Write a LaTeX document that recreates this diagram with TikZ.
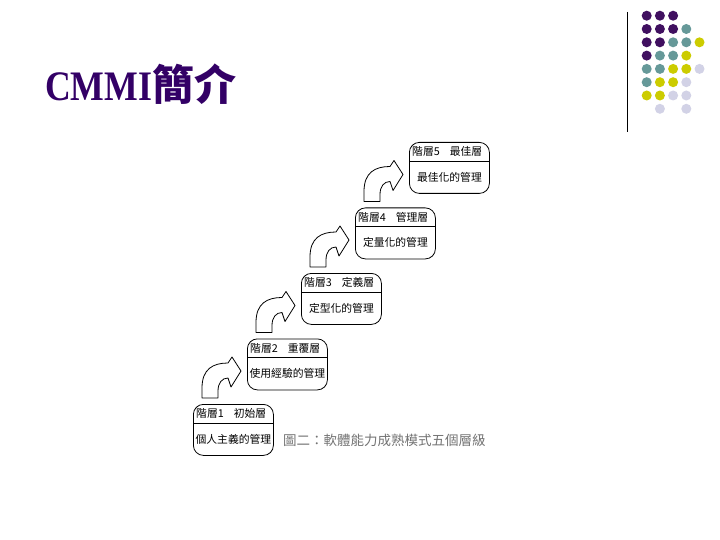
\documentclass[tikz,border=0pt]{standalone}
\usepackage{fontspec}
\setmainfont{Liberation Serif}
\newfontfamily\cjk{Noto Sans CJK TC}
\usetikzlibrary{positioning}

\definecolor{titlepurple}{RGB}{51,0,102}
\definecolor{dotP}{RGB}{64,16,96}
\definecolor{dotT}{RGB}{102,153,153}
\definecolor{dotY}{RGB}{204,204,0}
\definecolor{dotL}{RGB}{210,210,230}

\tikzset{
  stagebox/.style={draw, rounded corners=10pt, minimum width=80pt, minimum height=51pt, inner sep=0pt, line width=0.8pt},
  stagetitle/.style={font=\cjk\fontsize{10.8}{12}\selectfont, inner sep=0pt, anchor=west},
  stagebody/.style={font=\cjk\fontsize{10.8}{12}\selectfont, inner sep=0pt},
  blockarrow/.style={draw, line width=0.8pt, fill=white, line join=round},
  griddot/.style={circle, inner sep=0pt, minimum size=10pt},
}

\begin{document}
\begin{tikzpicture}[x=1pt, y=-1pt]

\fill[white] (0,0) rectangle (720,540);
\useasboundingbox (0,0) rectangle (720,540);

% Slide title
\node[anchor=base west, text=titlepurple, inner sep=0pt] (title) at (45,101)
  {\fontsize{42}{42}\selectfont\bfseries\scalebox{0.85}[1]{CMMI}{\cjk\bfseries 簡介}};

% Corner decoration: rule and dot grid
\draw[line width=0.8pt] (627.3,12) -- (627.3,132);
\foreach \r/\list in {0/{P,P,P},1/{P,P,P,T},2/{P,P,T,T,Y},3/{P,T,T,Y},4/{T,T,Y,Y,L},5/{T,Y,Y,L},6/{Y,Y,L,L}}{
  \foreach \col [count=\c from 0] in \list
    \node[griddot, fill=dot\col] (d\r-\c) at ({646.7+13.2*\c},{15.7+13.3*\r}) {};
}
\foreach \c in {1,3}
  \node[griddot, fill=dotL] (d7-\c) at ({646.7+13.2*\c},{15.7+13.3*7}) {};

% Five maturity levels as a staircase
\foreach \i/\t/\b in {1/{階層1\hspace{10pt}初始層}/個人主義的管理,
                      2/{階層2\hspace{10pt}重覆層}/使用經驗的管理,
                      3/{階層3\hspace{10pt}定義層}/定型化的管理,
                      4/{階層4\hspace{10pt}管理層}/定量化的管理,
                      5/{階層5\hspace{10pt}最佳層}/最佳化的管理}{
  \node[stagebox, anchor=north west] (L\i) at ({193+54*(\i-1)},{404-65.5*(\i-1)}) {};
  \draw[line width=0.8pt] ([yshift=-19pt]L\i.north west) -- ([yshift=-19pt]L\i.north east);
  \node[stagetitle] (T\i) at ([xshift=3pt,yshift=-9.5pt]L\i.north west) {\t};
  \node[stagebody] (B\i) at ([yshift=-35pt]L\i.north) {\b};
}

% Curved arrows from each level up to the next
\foreach \i in {1,...,4}{
  \draw[blockarrow, shift={(L\i.north west)}]
    (9,-6) -- (9,-16) .. controls (9,-35) and (20,-41) .. (35,-41)
    -- (39,-47) -- (48,-33) -- (38,-17) -- (35,-26)
    .. controls (29,-26) and (25,-21) .. (25,-13) -- (25,-6) -- cycle;
}

% Caption
\node[font=\cjk\fontsize{13.5}{15}\selectfont, text=black!55, anchor=west, inner sep=0pt]
  (caption) at (283,440) {圖二：軟體能力成熟模式五個層級};

\end{tikzpicture}
\end{document}
